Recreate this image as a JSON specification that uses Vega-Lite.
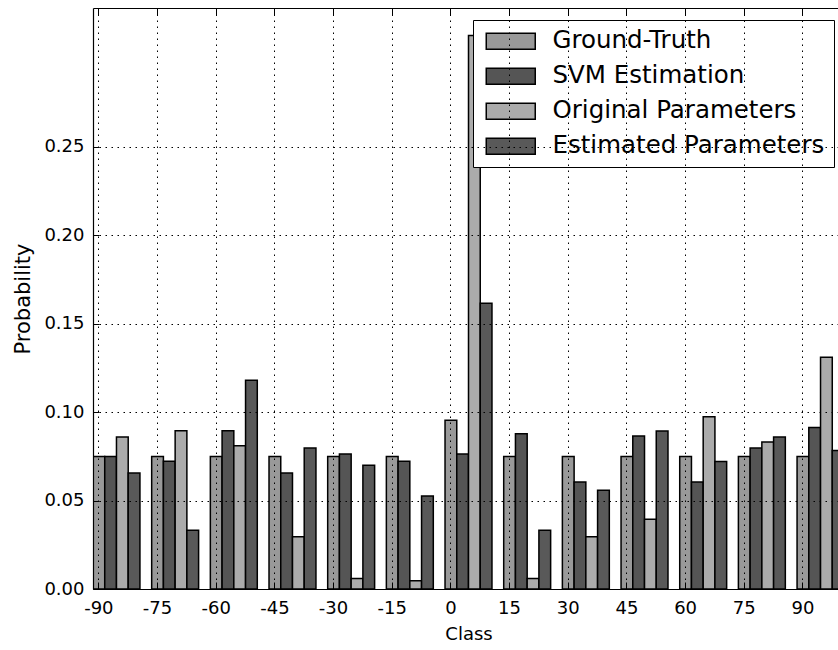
{
  "$schema": "https://vega.github.io/schema/vega-lite/v6.json",
  "width": 745,
  "height": 581,
  "autosize": {"type": "none"},
  "padding": {"left": 93, "top": 8, "right": 0, "bottom": 61},
  "config": {"view": {"stroke": null}, "font": "DejaVu Sans"},
  "data": {
    "values": [
      {"class": -90, "series": "Ground-Truth", "prob": 0.075},
      {"class": -90, "series": "SVM Estimation", "prob": 0.075},
      {"class": -90, "series": "Original Parameters", "prob": 0.086},
      {"class": -90, "series": "Estimated Parameters", "prob": 0.0656},
      {"class": -75, "series": "Ground-Truth", "prob": 0.075},
      {"class": -75, "series": "SVM Estimation", "prob": 0.0723},
      {"class": -75, "series": "Original Parameters", "prob": 0.0895},
      {"class": -75, "series": "Estimated Parameters", "prob": 0.0332},
      {"class": -60, "series": "Ground-Truth", "prob": 0.075},
      {"class": -60, "series": "SVM Estimation", "prob": 0.0895},
      {"class": -60, "series": "Original Parameters", "prob": 0.081},
      {"class": -60, "series": "Estimated Parameters", "prob": 0.118},
      {"class": -45, "series": "Ground-Truth", "prob": 0.075},
      {"class": -45, "series": "SVM Estimation", "prob": 0.0656},
      {"class": -45, "series": "Original Parameters", "prob": 0.0296},
      {"class": -45, "series": "Estimated Parameters", "prob": 0.0797},
      {"class": -30, "series": "Ground-Truth", "prob": 0.075},
      {"class": -30, "series": "SVM Estimation", "prob": 0.0763},
      {"class": -30, "series": "Original Parameters", "prob": 0.006},
      {"class": -30, "series": "Estimated Parameters", "prob": 0.070},
      {"class": -15, "series": "Ground-Truth", "prob": 0.075},
      {"class": -15, "series": "SVM Estimation", "prob": 0.0723},
      {"class": -15, "series": "Original Parameters", "prob": 0.0047},
      {"class": -15, "series": "Estimated Parameters", "prob": 0.0526},
      {"class": 0, "series": "Ground-Truth", "prob": 0.0955},
      {"class": 0, "series": "SVM Estimation", "prob": 0.0763},
      {"class": 0, "series": "Original Parameters", "prob": 0.313},
      {"class": 0, "series": "Estimated Parameters", "prob": 0.1616},
      {"class": 15, "series": "Ground-Truth", "prob": 0.075},
      {"class": 15, "series": "SVM Estimation", "prob": 0.0878},
      {"class": 15, "series": "Original Parameters", "prob": 0.006},
      {"class": 15, "series": "Estimated Parameters", "prob": 0.0332},
      {"class": 30, "series": "Ground-Truth", "prob": 0.075},
      {"class": 30, "series": "SVM Estimation", "prob": 0.0605},
      {"class": 30, "series": "Original Parameters", "prob": 0.0296},
      {"class": 30, "series": "Estimated Parameters", "prob": 0.0558},
      {"class": 45, "series": "Ground-Truth", "prob": 0.075},
      {"class": 45, "series": "SVM Estimation", "prob": 0.0865},
      {"class": 45, "series": "Original Parameters", "prob": 0.0394},
      {"class": 45, "series": "Estimated Parameters", "prob": 0.0893},
      {"class": 60, "series": "Ground-Truth", "prob": 0.075},
      {"class": 60, "series": "SVM Estimation", "prob": 0.0605},
      {"class": 60, "series": "Original Parameters", "prob": 0.0974},
      {"class": 60, "series": "Estimated Parameters", "prob": 0.0721},
      {"class": 75, "series": "Ground-Truth", "prob": 0.075},
      {"class": 75, "series": "SVM Estimation", "prob": 0.0797},
      {"class": 75, "series": "Original Parameters", "prob": 0.0831},
      {"class": 75, "series": "Estimated Parameters", "prob": 0.0859},
      {"class": 90, "series": "Ground-Truth", "prob": 0.075},
      {"class": 90, "series": "SVM Estimation", "prob": 0.0914},
      {"class": 90, "series": "Original Parameters", "prob": 0.1311},
      {"class": 90, "series": "Estimated Parameters", "prob": 0.0784}
    ]
  },
  "layer": [
    {
      "mark": {"type": "bar", "clip": true, "stroke": "black", "strokeWidth": 1.5},
      "encoding": {
        "x": {
          "field": "class",
          "type": "ordinal",
          "sort": "ascending",
          "scale": {"range": [0, 751], "paddingInner": 0.2, "paddingOuter": 0},
          "axis": {
            "orient": "bottom",
            "bandPosition": 0.125,
            "labelAngle": 0,
            "labelOffset": -17.6,
            "title": "Class",
            "titleFontSize": 18,
            "titleFontWeight": "normal",
            "titleColor": "black",
            "titlePadding": 8,
            "labelFontSize": 18,
            "labelColor": "black",
            "labelPadding": 17,
            "tickSize": -7,
            "tickColor": "black",
            "tickWidth": 1,
            "domainColor": "black",
            "domainWidth": 1.2,
            "grid": true,
            "gridColor": "black",
            "gridDash": [1.5, 4.5],
            "gridWidth": 1,
            "zindex": 1
          }
        },
        "xOffset": {
          "field": "series",
          "type": "nominal",
          "sort": ["Ground-Truth", "SVM Estimation", "Original Parameters", "Estimated Parameters"],
          "scale": {"paddingInner": 0, "paddingOuter": 0}
        },
        "y": {
          "field": "prob",
          "type": "quantitative",
          "scale": {"domain": [0, 0.3286], "nice": false, "zero": true},
          "axis": {
            "values": [0, 0.05, 0.1, 0.15, 0.2, 0.25],
            "format": ".2f",
            "title": "Probability",
            "titleFontSize": 21,
            "titleFontWeight": "normal",
            "titleColor": "black",
            "titlePadding": 10,
            "labelFontSize": 18,
            "labelColor": "black",
            "labelPadding": 15,
            "tickSize": -6,
            "tickColor": "black",
            "tickWidth": 1,
            "domainColor": "black",
            "domainWidth": 1.2,
            "grid": true,
            "gridColor": "black",
            "gridDash": [1.5, 4.5],
            "gridWidth": 1,
            "zindex": 1
          }
        },
        "fill": {
          "field": "series",
          "type": "nominal",
          "sort": ["Ground-Truth", "SVM Estimation", "Original Parameters", "Estimated Parameters"],
          "scale": {
            "domain": ["Ground-Truth", "SVM Estimation", "Original Parameters", "Estimated Parameters"],
            "range": ["#999999", "#555555", "#ababab", "#595959"]
          },
          "legend": {
            "orient": "none",
            "legendX": 380,
            "legendY": 12,
            "title": null,
            "symbolType": "M-1,-1H5.125V1H-1Z",
            "symbolSize": 256,
            "symbolStrokeColor": "black",
            "symbolStrokeWidth": 1.5,
            "symbolOpacity": 1,
            "labelFont": "DejaVu Sans",
            "labelFontSize": 24.5,
            "labelColor": "black",
            "labelOffset": 46,
            "labelLimit": 400,
            "padding": 9,
            "rowPadding": 10,
            "fillColor": "white",
            "strokeColor": "black",
            "cornerRadius": 0
          }
        }
      }
    },
    {
      "mark": {"type": "rule", "opacity": 0},
      "encoding": {
        "x": {
          "field": "class",
          "type": "ordinal",
          "sort": "ascending",
          "axis": {
            "orient": "top",
            "bandPosition": 0.125,
            "labels": false,
            "title": null,
            "tickSize": -7,
            "tickColor": "black",
            "tickWidth": 1,
            "domainColor": "black",
            "domainWidth": 1.2,
            "grid": false,
            "zindex": 1
          }
        }
      }
    }
  ],
  "resolve": {"axis": {"x": "independent"}}
}
